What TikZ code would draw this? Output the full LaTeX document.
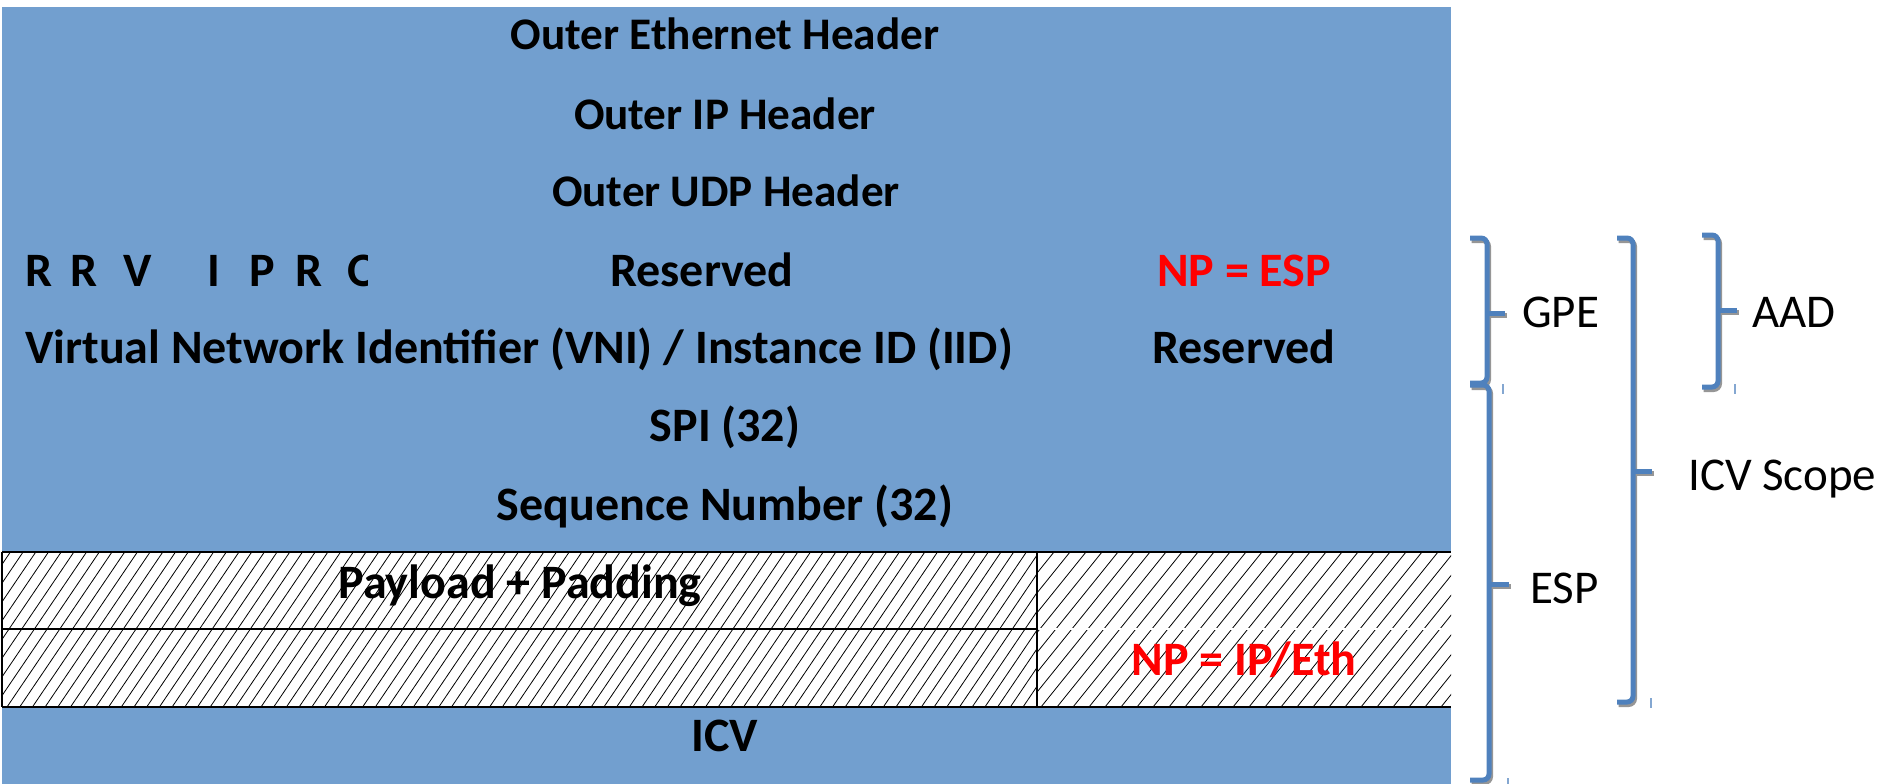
\documentclass[tikz,border=0pt]{standalone}
\usepackage{fontspec}
\setmainfont{Carlito}
\definecolor{fieldblue}{RGB}{114,159,207}
\definecolor{braceblue}{RGB}{79,129,189}
\definecolor{braceshadow}{RGB}{150,150,150}
\definecolor{npred}{RGB}{255,0,0}
\newcommand\fieldbracket[6]{%
  \draw[bracebase, braceshadow] ({#1+1.5},{#3+2.5}) -- ({#2+1.5},{#3+2.5}) -- ({#2+1.5},{#4+2.5}) -- ({#1+1.5},{#4+2.5});
  \draw[bracebase, braceshadow] ({#2+1.5},{#5+2.5}) -- ({#6+1.5},{#5+2.5});
  \draw[bracebase, braceblue] (#1,#3) -- (#2,#3) -- (#2,#4) -- (#1,#4);
  \draw[bracebase, braceblue] (#2,#5) -- (#6,#5);
}
\begin{document}
\begin{tikzpicture}[x=1pt,y=-1pt,
  lbl/.style={font=\fontsize{48}{52}\selectfont\bfseries, inner sep=0pt, anchor=base},
  outer/.style={lbl, font=\fontsize{45.2}{50}\selectfont\bfseries},
  side/.style={font=\fontsize{47}{52}\selectfont, inner sep=0pt, anchor=base west},
  bracebase/.style={line width=5pt, rounded corners=6pt},
  hatch/.style={line width=0.8pt, black},
  border/.style={line width=2.5pt, black},
  speck/.style={line width=1.2pt, braceblue!70}]
\useasboundingbox (0,0) rectangle (1883,784);
\fill[fieldblue] (2,7) rectangle (1451,784);
\fill[white] (2,552) rectangle (1451,707);
% hatching
\begin{scope}
  \clip (2,552) rectangle (1037,707);
  \foreach \i in {0,...,95} \draw[hatch] ({\i*12.7-120},707) -- ++(105,-155);
\end{scope}
\begin{scope}
  \clip (1037,552) rectangle (1451,707);
  \foreach \i in {0,...,38} \draw[hatch] ({1037+\i*16-140},707) -- ++(125,-155);
\end{scope}
\draw[white, line width=2.5pt] (1039,629) -- (1451,629);
% borders
\draw[border] (2,552) -- (1451,552) (2,707) -- (1451,707) (2,552) -- (2,707)
  (2,629) -- (1037,629) (1037,552) -- (1037,707);
% header texts
\node[outer] (eth) at (725,50) {Outer Ethernet Header};
\node[outer] (ip) at (725,129) {Outer IP Header};
\node[outer] (udp) at (726,206) {Outer UDP Header};
\begin{scope}
  \clip (0,240) rectangle (367,320);
  \node[lbl, anchor=base west] (f1) at (25,286) {R};
  \node[lbl, anchor=base west] (f2) at (70,286) {R};
  \node[lbl, anchor=base west] (f3) at (123,286) {V};
  \node[lbl, anchor=base west] (f4) at (207,286) {I};
  \node[lbl, anchor=base west] (f5) at (249,286) {P};
  \node[lbl, anchor=base west] (f6) at (295,286) {R};
  \node[lbl, anchor=base west] (f7) at (347,286) {O};
\end{scope}
\node[lbl] (res1) at (702,286) {Reserved};
\node[lbl, text=npred] (npesp) at (1244,286) {NP = ESP};
\node[lbl] (vni) at (519,363) {Virtual Network Identifier (VNI) / Instance ID (IID)};
\node[lbl] (res2) at (1244,363) {Reserved};
\node[lbl] (spi) at (725,441) {SPI (32)};
\node[lbl] (seq) at (725,520) {Sequence Number (32)};
\node[lbl] (pay) at (520,598) {Payload + Padding};
\node[lbl, text=npred] (npip) at (1244,675) {NP = IP/Eth};
\node[lbl] (icv) at (725,751) {ICV};
% brackets
\fieldbracket{1470}{1487}{238}{383}{313}{1505}
\fieldbracket{1470}{1489}{385}{780}{584}{1509}
\fieldbracket{1617}{1633}{238}{702}{471}{1652}
\fieldbracket{1702}{1718}{235}{387}{310}{1737}
\draw[speck] (1503,384) -- (1503,394) (1735,384) -- (1735,394) (1651,698) -- (1651,708) (1508,778) -- (1508,784);
% bracket labels
\node[side] (gpe) at (1522,327) {GPE};
\node[side] (esp) at (1530,603) {ESP};
\node[side] (scope) at (1688,490) {ICV Scope};
\node[side] (aad) at (1752,327) {AAD};
\end{tikzpicture}
\end{document}
